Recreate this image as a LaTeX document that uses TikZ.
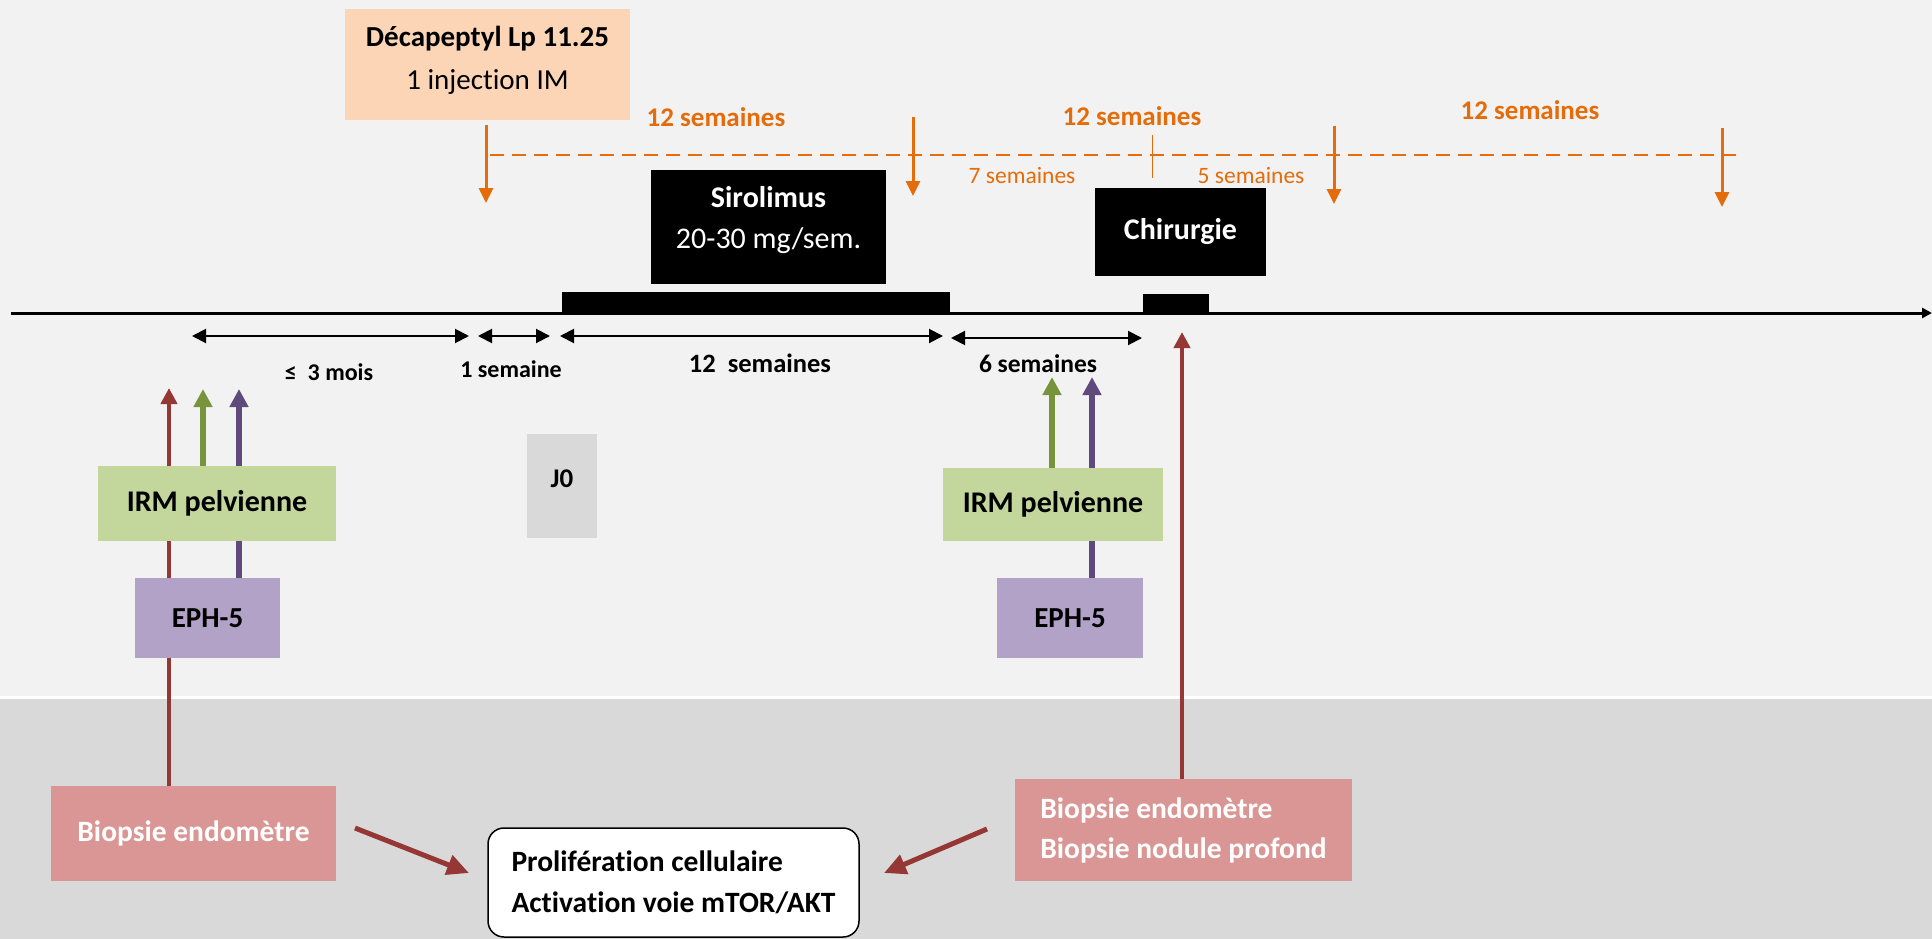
\documentclass[tikz,border=0pt]{standalone}
\usepackage{fontspec}
\setmainfont[Ligatures={NoCommon}]{Carlito}
\usetikzlibrary{arrows.meta}
\definecolor{peach}{HTML}{FBD5B5}
\definecolor{orng}{HTML}{E46C0A}
\definecolor{dred}{HTML}{953735}
\definecolor{grn}{HTML}{77933C}
\definecolor{purp}{HTML}{604A7B}
\definecolor{irmc}{HTML}{C3D69B}
\definecolor{ephc}{HTML}{B3A2C7}
\definecolor{bioc}{HTML}{D99694}
\definecolor{lgray}{HTML}{F2F2F2}
\definecolor{dgray}{HTML}{D9D9D9}
\pgfdeclarelayer{back}
\pgfdeclarelayer{lines}
\pgfsetlayers{back,lines,main}
\newcommand{\fs}[1]{\fontsize{#1}{#1}\selectfont}
\begin{document}
\begin{tikzpicture}[x=1pt,y=-1pt,
  rbox/.style={inner sep=0pt, align=center, anchor=center},
  blk/.style={rbox, fill=black, text=white},
  tlabel/.style={inner sep=0pt, anchor=center},
  orlab/.style={tlabel, text=orng, font=\bfseries\fs{27}},
  orsmall/.style={tlabel, text=orng, font=\fs{23.5}},
  bklab/.style={tlabel, font=\bfseries\fs{24}},
  orarrow/.style={draw=orng, line width=3pt, -{Triangle[length=15pt,width=14pt]}},
  dimarrow/.style={draw=black, line width=2pt, {Triangle[length=14pt,width=14pt]}-{Triangle[length=14pt,width=14pt]}},
  testred/.style={draw=dred, line width=4pt, -{Triangle[length=16pt,width=16pt]}},
  testgrn/.style={draw=grn, line width=6pt, -{Triangle[length=18pt,width=18pt]}},
  testpur/.style={draw=purp, line width=6pt, -{Triangle[length=18pt,width=18pt]}},
  bigred/.style={draw=dred, line width=5pt, -{Triangle[length=22pt,width=20pt]}},
]
\useasboundingbox (0,0) rectangle (1932,939);
\begin{pgfonlayer}{back}
\fill[white] (0,0) rectangle (1932,939);
\fill[lgray] (0,0) rectangle (1932,696);
\fill[dgray] (0,699) rectangle (1932,939);
\end{pgfonlayer}

% top boxes
\node[rbox, fill=peach, minimum width=285pt, minimum height=111pt] (deca) at (487.5,64.5) {};
\node[tlabel, align=center, font=\fontsize{29}{43}\selectfont] (decaT) at (487.5,60)
  {\textbf{Décapeptyl Lp 11.25}\\1 injection IM};
\node[blk, minimum width=235pt, minimum height=114pt] (siro) at (768.5,227) {};
\node[tlabel, align=center, text=white, font=\fontsize{30}{41}\selectfont] (siroT) at (768.5,220)
  {\textbf{Sirolimus}\\20-30 mg/sem.};
\node[blk, minimum width=171pt, minimum height=88pt, font=\bfseries\fs{30}] (chir) at (1180.5,232) {Chirurgie};
\node[rbox, fill=black, minimum width=388pt, minimum height=21pt] (sirobar) at (756,302.5) {};
\node[rbox, fill=black, minimum width=66pt, minimum height=19pt] (chirbar) at (1176,303.5) {};

% orange labels
\node[orlab] (s1) at (716,117) {12 semaines};
\node[orlab] (s2) at (1132,116) {12 semaines};
\node[orlab] (s3) at (1530,110) {12 semaines};
\node[orsmall] (s7) at (1022,176) {7 semaines};
\node[orsmall] (s5) at (1251,176) {5 semaines};

% orange arrows
\coordinate (o1a) at (486,125); \coordinate (o1b) at (486,203);
\coordinate (o2a) at (913,117); \coordinate (o2b) at (913,196);
\coordinate (o3a) at (1334,126); \coordinate (o3b) at (1334,204);
\coordinate (o4a) at (1722,128); \coordinate (o4b) at (1722,207);
\coordinate (da) at (490,155); \coordinate (db) at (1737,155);
\coordinate (tka) at (1152,135); \coordinate (tkb) at (1152,178);
\draw[orarrow] (o1a) -- (o1b);
\draw[orarrow] (o2a) -- (o2b);
\draw[orarrow] (o3a) -- (o3b);
\draw[orarrow] (o4a) -- (o4b);
\draw[orng, line width=2.5pt, dash pattern=on 14pt off 8pt] (da) -- (db);
\draw[orng, line width=1pt] (tka) -- (tkb);

% timeline
\coordinate (ta) at (11,313); \coordinate (tb) at (1932,313);
\draw[line width=3pt, -{Triangle[length=10pt,width=10pt]}] (ta) -- (tb);

% dimension arrows
\coordinate (a1) at (192,336); \coordinate (a2) at (469,336);
\coordinate (b1) at (478,336); \coordinate (b2) at (550,336);
\coordinate (c1) at (560,336); \coordinate (c2) at (943,336);
\coordinate (e1) at (951,338); \coordinate (e2) at (1142,338);
\draw[dimarrow] (a1) -- (a2);
\draw[dimarrow] (b1) -- (b2);
\draw[dimarrow] (c1) -- (c2);
\draw[dimarrow] (e1) -- (e2);
\node[bklab] (l3m) at (329,372) {≤\ \ 3 mois};
\node[bklab] (l1s) at (511,369) {1 semaine};
\node[tlabel, font=\bfseries\fs{26.5}] (l12) at (760,363) {12\ \ semaines};
\node[bklab, font=\bfseries\fs{25.5}] (l6s) at (1038,364) {6 semaines};

% J0
\node[rbox, fill=dgray, minimum width=70pt, minimum height=104pt] (j0) at (562,486) {};
\node[tlabel, font=\bfseries\fs{27}] (j0T) at (562,479) {J0};

% exam boxes
\node[rbox, fill=irmc, minimum width=238pt, minimum height=75pt, font=\bfseries\fs{30}] (irmL) at (217,503.5) {IRM pelvienne};
\node[rbox, fill=irmc, minimum width=220pt, minimum height=73pt, font=\bfseries\fs{30}] (irmR) at (1053,504.5) {IRM pelvienne};
\node[rbox, fill=ephc, minimum width=145pt, minimum height=80pt, font=\bfseries\fs{29}] (ephL) at (207.5,618) {EPH-5};
\node[rbox, fill=ephc, minimum width=146pt, minimum height=80pt, font=\bfseries\fs{29}] (ephR) at (1070,618) {EPH-5};

% biopsies
\node[rbox, fill=bioc, text=white, minimum width=285pt, minimum height=95pt, font=\bfseries\fs{29.5}] (bioL) at (193.5,833.5) {Biopsie endomètre};
\node[rbox, fill=bioc, text=white, minimum width=337pt, minimum height=102pt, align=left, font=\bfseries\fontsize{29.5}{40}\selectfont] (bioR) at (1183.5,830) {Biopsie endomètre\\Biopsie nodule profond};
\node[rbox, fill=white, draw=black, line width=1.5pt, rounded corners=16pt, minimum width=371pt, minimum height=109pt, align=left, font=\bfseries\fontsize{29.5}{41}\selectfont] (prol) at (673.5,882.5) {Prolifération cellulaire\\Activation voie mTOR/AKT};

% test arrows
\coordinate (rL) at (169,388);
\coordinate (gL) at (203,389);
\coordinate (pL) at (239,389);
\coordinate (rR) at (1182,332);
\coordinate (gR) at (1052,377);
\coordinate (pR) at (1092,377);
\begin{pgfonlayer}{lines}
\draw[testred] (bioL.north -| rL) -- (rL);
\draw[testgrn] (irmL.north -| gL) -- (gL);
\draw[testpur] (ephL.north -| pL) -- (pL);
\draw[testred] (bioR.north -| rR) -- (rR);
\draw[testgrn] (irmR.north -| gR) -- (gR);
\draw[testpur] (ephR.north -| pR) -- (pR);
\end{pgfonlayer}

% big arrows
\coordinate (x1) at (355,828); \coordinate (x2) at (469,873);
\coordinate (y1) at (987,829); \coordinate (y2) at (884,873);
\draw[bigred] (x1) -- (x2);
\draw[bigred] (y1) -- (y2);
\end{tikzpicture}
\end{document}
